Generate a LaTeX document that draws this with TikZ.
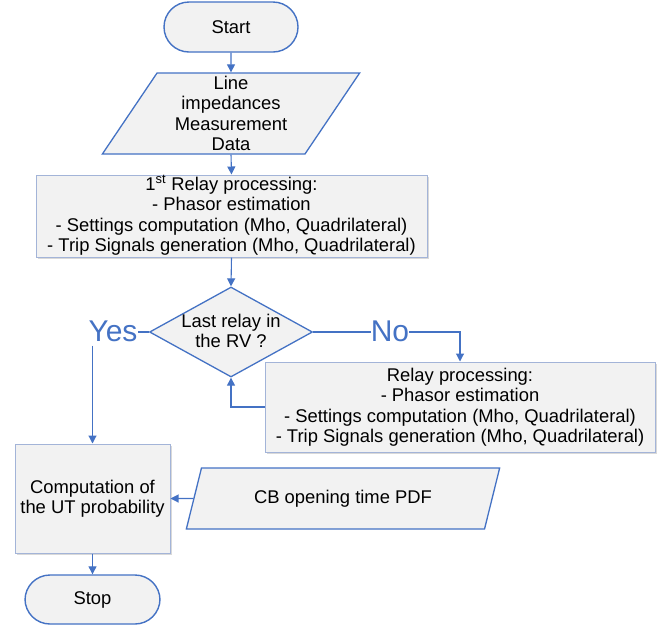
\documentclass[tikz,border=0pt]{standalone}
\usepackage{fontspec}
\setmainfont{Liberation Sans}
\usetikzlibrary{shapes.geometric,arrows.meta,shadows,patterns}
\definecolor{bblue}{HTML}{4472C4}
\definecolor{lblue}{HTML}{A3B4D8}
\definecolor{fillg}{HTML}{F2F2F2}
\begin{document}
\begin{tikzpicture}[x=1pt,y=-1pt,
  every node/.style={font=\fontsize{18.4}{20.5}\selectfont, align=center, inner sep=0pt},
  term/.style={draw=bblue, line width=1.4pt, fill=fillg, rectangle, rounded corners=25pt,
    minimum width=134pt, minimum height=50pt},
  iobox/.style={draw=bblue, line width=1.3pt, fill=fillg, trapezium, trapezium left angle=61,
    trapezium right angle=119, trapezium stretches=true},
  procbox/.style={drop shadow={shadow xshift=1.5pt, shadow yshift=-1.5pt, fill=black, opacity=0.15},
    preaction={fill=fillg}, draw=lblue, line width=1pt, rectangle,
    pattern=north west lines, pattern color=black!5},
  decbox/.style={draw=bblue, line width=1.3pt, fill=fillg, diamond,
    minimum width=163pt, minimum height=90pt},
  lbl/.style={text=bblue, font=\fontsize{30}{34}\selectfont},
  arr/.style={draw=bblue, line width=1.1pt, -{Triangle[length=8pt,width=8pt]}},
  ln/.style={draw=bblue, line width=1.1pt}
]
\useasboundingbox (0,0) rectangle (668,630);

\node[term] (start) at (231,27) {Start};
\node[iobox, minimum width=258pt, minimum height=81pt] (p1) at (231,113.5)
  {Line\\impedances\\Measurement\\Data};
\node[procbox, minimum width=391pt, minimum height=82pt] (b1) at (231.5,216)
  {1\smash{\textsuperscript{st}} Relay processing:\\- Phasor estimation\\- Settings computation (Mho, Quadrilateral)\\- Trip Signals generation (Mho, Quadrilateral)};
\node[decbox] (dec) at (231,332) {};
\node (dectext) at (231,331) {Last relay in\\the RV ?};
\node[lbl] (yes) at (113,331) {Yes};
\node[lbl] (no) at (390,331) {No};
\node[procbox, minimum width=390pt, minimum height=90pt] (b2) at (460,407)
  {Relay processing:\\- Phasor estimation\\- Settings computation (Mho, Quadrilateral)\\- Trip Signals generation (Mho, Quadrilateral)};
\node[procbox, minimum width=155pt, minimum height=109pt] (b3) at (92.5,498.5)
  {Computation of\\the UT probability};
\node[iobox, minimum width=314pt, minimum height=61pt] (p2) at (343,498.5)
  {CB opening time PDF};
\node[term, minimum width=135pt, minimum height=49pt] (stop) at (92.5,599.5) {Stop};

\draw[arr] (start.south) -- (p1.north);
\draw[arr] (p1.south) -- (b1.north);
\draw[arr] (b1.south) -- (dec.north);
\draw[ln] (dec.west) -- (yes.east |- dec.west);
\draw[arr] (b3.north |- yes.south) ++(0,4) -- (b3.north);
\draw[ln] (dec.east) -- (no.west |- dec.east);
\draw[arr] (no.east |- dec.east) -| (b2.north);
\draw[arr] (b2.west) -| (dec.south);
\draw[arr] (p2.west) -- (b3.east);
\draw[arr] (b3.south) -- (stop.north);
\end{tikzpicture}
\end{document}
